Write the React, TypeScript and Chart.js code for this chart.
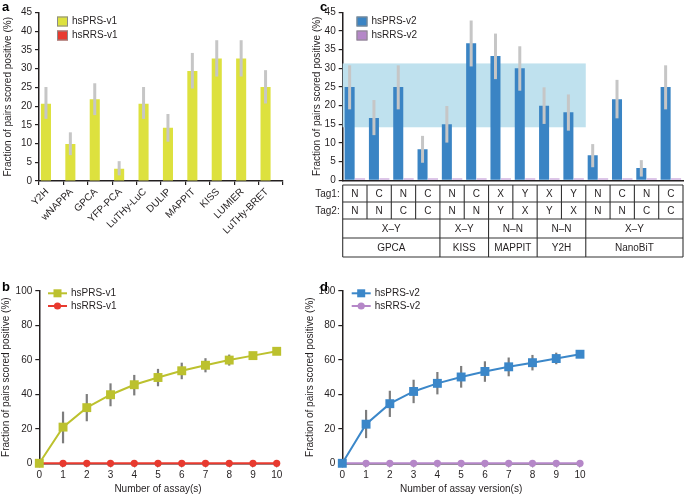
import React, { useEffect, useRef } from 'react';
import { Chart, registerables } from 'chart.js';

Chart.register(...registerables);

// ---------------- DATA ----------------
// Panel a
const ASSAYS_V1 = ['Y2H', 'wNAPPA', 'GPCA', 'YFP-PCA', 'LuTHy-LuC', 'DULIP', 'MAPPIT', 'KISS', 'LUMIER', 'LuTHy-BRET'];
const PRS_V1_BAR = [20.6, 9.9, 21.8, 3.3, 20.6, 14.2, 29.4, 32.7, 32.7, 25.1];
const PRS_V1_BAR_LO = [16.6, 6.9, 17.6, 1.5, 16.6, 10.5, 24.7, 27.9, 27.9, 20.7];
const PRS_V1_BAR_HI = [25.1, 13.0, 26.1, 5.3, 25.1, 17.9, 34.2, 37.6, 37.6, 29.6];
const RRS_V1_BAR = [0, 0, 0, 0, 0, 0, 0, 0, 0, 0];

// Panel c
const TAG1 = ['N', 'C', 'N', 'C', 'N', 'C', 'X', 'Y', 'X', 'Y', 'N', 'C', 'N', 'C'];
const TAG2 = ['N', 'N', 'C', 'C', 'N', 'N', 'Y', 'X', 'Y', 'X', 'N', 'N', 'C', 'C'];
const ORIENT_LABELS = ['X–Y', 'X–Y', 'N–N', 'N–N', 'X–Y'];
const ORIENT_SPANS = [4, 2, 2, 2, 4];
const ASSAYS_V2 = ['GPCA', 'KISS', 'MAPPIT', 'Y2H', 'NanoBiT'];
const ASSAY_V2_SPANS = [4, 2, 2, 2, 4];
const PRS_V2_BAR = [25, 16.7, 25, 8.3, 15, 36.7, 33.3, 30, 20, 18.2, 6.7, 21.7, 3.3, 25];
const PRS_V2_BAR_LO = [19, 12.1, 19, 4.7, 10.1, 30.5, 27.1, 24, 15.1, 13.3, 3.5, 16.6, 1.0, 19];
const PRS_V2_BAR_HI = [30.8, 21.5, 30.8, 11.9, 19.9, 42.8, 39.3, 35.9, 24.9, 23, 9.7, 26.9, 5.4, 30.8];
const RRS_V2_BAR = [0, 0, 0, 0, 0, 0, 0, 0, 0, 0, 0, 0, 0, 0];
const BAND_RANGE = [14.2, 31.3];
const BAND_LAST_INDEX = 9;

// Panels b & d
const ASSAY_COUNT = [0, 1, 2, 3, 4, 5, 6, 7, 8, 9, 10];
const PRS_V1_CUM = [0, 21.0, 32.3, 39.8, 45.6, 49.8, 53.7, 56.9, 59.9, 62.5, 65.0];
const PRS_V1_CUM_LO = [0, 11.6, 24.4, 33.1, 39.4, 44.7, 48.8, 52.8, 56.7, 60.5, 65.0];
const PRS_V1_CUM_HI = [0, 30.0, 40.2, 46.4, 51.3, 54.8, 58.4, 61.0, 63.1, 64.6, 65.0];
const RRS_V1_CUM = [0, 0, 0, 0, 0, 0, 0, 0, 0, 0, 0];
const PRS_V2_CUM = [0, 22.7, 34.6, 41.7, 46.4, 50.1, 53.3, 56.0, 58.4, 60.8, 63.3];
const PRS_V2_CUM_LO = [0, 14.6, 26.9, 34.9, 40.0, 43.9, 47.3, 50.5, 53.9, 57.5, 63.3];
const PRS_V2_CUM_HI = [0, 31.0, 42.1, 48.5, 53.0, 56.5, 59.2, 61.4, 62.9, 64.2, 63.3];
const RRS_V2_CUM = [0, 0, 0, 0, 0, 0, 0, 0, 0, 0, 0];

// ---------------- STYLE ----------------
const FF = '"Liberation Sans", Arial, Helvetica, sans-serif';
const INK = '#231f20';
const YELLOW = '#dde13e';
const OLIVE = '#bcc12e';
const RED = '#e83a2f';
const BLUE = '#3a84c4';
const BLUE_LINE = '#3b87c9';
const PURPLE = '#b587c8';
const BAND = '#bfe1ee';
const FONT = { family: FF, size: 10 };
const Y_TITLE = 'Fraction of pairs scored positive (%)';

// ---------------- PLUGINS ----------------
function errorBars(id: string, color: string, width: number, before: boolean) {
  const draw = (chart: any) => {
    const ctx = chart.ctx;
    const ys = chart.scales.y;
    chart.data.datasets.forEach((ds: any, di: number) => {
      if (!ds.errLo) return;
      const meta = chart.getDatasetMeta(di);
      ctx.save();
      ctx.strokeStyle = color;
      ctx.lineWidth = width;
      ctx.lineCap = 'butt';
      meta.data.forEach((el: any, i: number) => {
        const lo = ds.errLo[i];
        const hi = ds.errHi[i];
        if (hi - lo <= 0) return;
        ctx.beginPath();
        ctx.moveTo(el.x, ys.getPixelForValue(lo));
        ctx.lineTo(el.x, ys.getPixelForValue(hi));
        ctx.stroke();
      });
      ctx.restore();
    });
  };
  return before ? { id, beforeDatasetsDraw: draw } : { id, afterDatasetsDraw: draw };
}

type LegItem = { label: string; color: string; kind: 'box' | 'rect' | 'circle' };
function manualLegend(items: LegItem[], x: number, y: number, dy: number) {
  return {
    id: 'manualLegend',
    afterDraw(chart: any) {
      const ctx = chart.ctx;
      ctx.save();
      ctx.font = `10px ${FF}`;
      ctx.textBaseline = 'middle';
      ctx.textAlign = 'left';
      items.forEach((it, i) => {
        const cy = y + i * dy;
        let tx = x;
        if (it.kind === 'box') {
          ctx.fillStyle = it.color;
          ctx.fillRect(x, cy - 5, 11, 10);
          ctx.strokeStyle = '#8a8a8a';
          ctx.lineWidth = 1;
          ctx.strokeRect(x + 0.5, cy - 4.5, 10, 9);
          tx = x + 15;
        } else {
          ctx.strokeStyle = it.color;
          ctx.lineWidth = 2;
          ctx.beginPath();
          ctx.moveTo(x, cy);
          ctx.lineTo(x + 19, cy);
          ctx.stroke();
          ctx.fillStyle = it.color;
          if (it.kind === 'rect') {
            ctx.fillRect(x + 9.5 - 4, cy - 4, 8, 8);
          } else {
            ctx.beginPath();
            ctx.arc(x + 9.5, cy, 3.6, 0, Math.PI * 2);
            ctx.fill();
          }
          tx = x + 23;
        }
        ctx.fillStyle = INK;
        ctx.fillText(it.label, tx, cy);
      });
      ctx.restore();
    },
  };
}

const bandPlugin = {
  id: 'band',
  beforeDatasetsDraw(chart: any) {
    const { ctx, chartArea } = chart;
    const xs = chart.scales.x;
    const ys = chart.scales.y;
    const w = xs.getPixelForValue(1) - xs.getPixelForValue(0);
    const xEnd = xs.getPixelForValue(BAND_LAST_INDEX) + w / 2;
    const yTop = ys.getPixelForValue(BAND_RANGE[1]);
    const yBot = ys.getPixelForValue(BAND_RANGE[0]);
    ctx.save();
    ctx.fillStyle = BAND;
    ctx.fillRect(chartArea.left, yTop, xEnd - chartArea.left, yBot - yTop);
    ctx.restore();
  },
};

const tablePlugin = {
  id: 'tagTable',
  afterDraw(chart: any) {
    const { ctx, chartArea } = chart;
    const xs = chart.scales.x;
    const n = TAG1.length;
    const w = xs.getPixelForValue(1) - xs.getPixelForValue(0);
    const edge = (k: number) => xs.getPixelForValue(0) - w / 2 + k * w;
    const rows = [4.7, 21.7, 38.7, 57.7, 76.7].map((d) => chartArea.bottom + d);
    ctx.save();
    ctx.strokeStyle = '#333';
    ctx.lineWidth = 1.1;
    rows.forEach((ry) => {
      ctx.beginPath();
      ctx.moveTo(edge(0), ry);
      ctx.lineTo(edge(n), ry);
      ctx.stroke();
    });
    for (let k = 0; k <= n; k++) {
      ctx.beginPath();
      ctx.moveTo(edge(k), rows[0]);
      ctx.lineTo(edge(k), rows[2]);
      ctx.stroke();
    }
    const groupRow = (labels: string[], spans: number[], r: number) => {
      let k = 0;
      ctx.beginPath();
      ctx.moveTo(edge(0), rows[r]);
      ctx.lineTo(edge(0), rows[r + 1]);
      ctx.stroke();
      labels.forEach((lab, gi) => {
        const s = k;
        k += spans[gi];
        ctx.beginPath();
        ctx.moveTo(edge(k), rows[r]);
        ctx.lineTo(edge(k), rows[r + 1]);
        ctx.stroke();
        ctx.fillText(lab, (edge(s) + edge(k)) / 2, (rows[r] + rows[r + 1]) / 2 + 0.5);
      });
    };
    ctx.fillStyle = INK;
    ctx.font = `10px ${FF}`;
    ctx.textAlign = 'center';
    ctx.textBaseline = 'middle';
    for (let i = 0; i < n; i++) {
      const cx = xs.getPixelForValue(i);
      ctx.fillText(TAG1[i], cx, (rows[0] + rows[1]) / 2 + 0.5);
      ctx.fillText(TAG2[i], cx, (rows[1] + rows[2]) / 2 + 0.5);
    }
    groupRow(ORIENT_LABELS, ORIENT_SPANS, 2);
    groupRow(ASSAYS_V2, ASSAY_V2_SPANS, 3);
    ctx.textAlign = 'right';
    ctx.fillText('Tag1:', edge(0) - 3, (rows[0] + rows[1]) / 2 + 0.5);
    ctx.fillText('Tag2:', edge(0) - 3, (rows[1] + rows[2]) / 2 + 0.5);
    ctx.restore();
  },
};

// ---------------- SCALE HELPERS ----------------
function yAxis(max: number, step: number, width: number, titlePad: number) {
  return {
    min: 0,
    max,
    ticks: { stepSize: step, font: FONT, color: INK, padding: 3 },
    grid: { drawOnChartArea: false, drawTicks: true, tickLength: 4, color: INK, lineWidth: 1.2 },
    border: { display: true, color: INK, width: 1.5 },
    title: { display: true, text: Y_TITLE, font: FONT, color: INK, padding: { top: titlePad, bottom: 0 } },
    afterFit: (s: any) => {
      s.width = width;
    },
  };
}

function linearX(height: number, title: string) {
  return {
    type: 'linear',
    min: 0,
    max: 10,
    ticks: { stepSize: 1, font: FONT, color: INK, padding: 2 },
    grid: { drawOnChartArea: false, drawTicks: true, tickLength: 4, color: INK, lineWidth: 1.2 },
    border: { display: true, color: INK, width: 1.5 },
    title: { display: true, text: title, font: FONT, color: INK, padding: { top: 0, bottom: 0 } },
    afterFit: (s: any) => {
      s.height = height;
    },
  };
}

// ---------------- PANELS ----------------
function makeA(canvas: HTMLCanvasElement) {
  return new Chart(canvas, {
    type: 'bar',
    data: {
      labels: ASSAYS_V1,
      datasets: [
        {
          label: 'hsPRS-v1',
          data: PRS_V1_BAR,
          backgroundColor: YELLOW,
          categoryPercentage: 0.86,
          barPercentage: 0.96,
          errLo: PRS_V1_BAR_LO,
          errHi: PRS_V1_BAR_HI,
        } as any,
        {
          label: 'hsRRS-v1',
          data: RRS_V1_BAR,
          backgroundColor: RED,
          categoryPercentage: 0.86,
          barPercentage: 0.96,
        },
      ],
    },
    options: {
      responsive: false,
      animation: false,
      layout: { padding: { left: 0, top: 12.5, right: 47, bottom: 0 } },
      plugins: { legend: { display: false }, tooltip: { enabled: false } },
      scales: {
        x: {
          ticks: { autoSkip: false, maxRotation: 45, minRotation: 45, font: FONT, color: INK, padding: 1, labelOffset: -4 },
          grid: { drawOnChartArea: false, drawTicks: true, tickLength: 4, color: INK, lineWidth: 1.2 },
          border: { display: true, color: INK, width: 1.5 },
          afterFit: (s: any) => {
            s.height = 99;
          },
        },
        y: yAxis(45, 5, 39, 2.5),
      } as any,
    },
    plugins: [
      errorBars('errA', '#c6c6c6', 3, false),
      manualLegend(
        [
          { label: 'hsPRS-v1', color: YELLOW, kind: 'box' },
          { label: 'hsRRS-v1', color: RED, kind: 'box' },
        ],
        57,
        21.5,
        14
      ),
    ],
  } as any);
}

const C_LEFT = 306;
function makeC(canvas: HTMLCanvasElement) {
  return new Chart(canvas, {
    type: 'bar',
    data: {
      labels: TAG1.map((t, i) => `${t}/${TAG2[i]}`),
      datasets: [
        {
          label: 'hsPRS-v2',
          data: PRS_V2_BAR,
          backgroundColor: BLUE,
          categoryPercentage: 0.86,
          barPercentage: 0.96,
          errLo: PRS_V2_BAR_LO,
          errHi: PRS_V2_BAR_HI,
        } as any,
        {
          label: 'hsRRS-v2',
          data: RRS_V2_BAR,
          backgroundColor: '#d2b3e0',
          categoryPercentage: 0.86,
          barPercentage: 0.96,
          minBarLength: 2,
        },
      ],
    },
    options: {
      responsive: false,
      animation: false,
      layout: { padding: { left: 0, top: 12.3, right: 2, bottom: 0 } },
      plugins: { legend: { display: false }, tooltip: { enabled: false } },
      scales: {
        x: {
          ticks: { display: false },
          grid: { drawOnChartArea: false, drawTicks: false },
          border: { display: true, color: INK, width: 1.5 },
          afterFit: (s: any) => {
            s.height = 262 - 180.3;
          },
        },
        y: yAxis(45, 5, 342.7 - C_LEFT, 5),
      } as any,
    },
    plugins: [
      bandPlugin,
      errorBars('errC', '#c6c6c6', 3, false),
      tablePlugin,
      manualLegend(
        [
          { label: 'hsPRS-v2', color: BLUE, kind: 'box' },
          { label: 'hsRRS-v2', color: PURPLE, kind: 'box' },
        ],
        356.5 - C_LEFT,
        21.5,
        14
      ),
    ],
  } as any);
}

function makeLine(
  canvas: HTMLCanvasElement,
  yWidth: number,
  titlePad: number,
  padRight: number,
  xTitle: string,
  prs: number[],
  lo: number[],
  hi: number[],
  rrs: number[],
  prsColor: string,
  rrsColor: string,
  prsLabel: string,
  rrsLabel: string,
  legendX: number
) {
  return new Chart(canvas, {
    type: 'line',
    data: {
      datasets: [
        {
          label: prsLabel,
          data: ASSAY_COUNT.map((x, i) => ({ x, y: prs[i] })),
          borderColor: prsColor,
          backgroundColor: prsColor,
          borderWidth: 2,
          pointStyle: 'rect',
          pointRadius: 6.3,
          pointBorderWidth: 0,
          clip: false,
          errLo: lo,
          errHi: hi,
        } as any,
        {
          label: rrsLabel,
          data: ASSAY_COUNT.map((x, i) => ({ x, y: rrs[i] })),
          borderColor: rrsColor,
          backgroundColor: rrsColor,
          borderWidth: 2,
          pointStyle: 'circle',
          pointRadius: 3.6,
          pointBorderWidth: 0,
          clip: false,
        } as any,
      ],
    },
    options: {
      responsive: false,
      animation: false,
      layout: { padding: { left: 0, top: 11, right: padRight, bottom: 0 } },
      plugins: { legend: { display: false }, tooltip: { enabled: false } },
      scales: {
        x: linearX(215 - 183.3, xTitle),
        y: yAxis(100, 20, yWidth, titlePad),
      } as any,
    },
    plugins: [
      errorBars('errL', '#7d7d7d', 2.2, true),
      manualLegend(
        [
          { label: prsLabel, color: prsColor, kind: 'rect' },
          { label: rrsLabel, color: rrsColor, kind: 'circle' },
        ],
        legendX,
        13.3,
        12.7
      ),
    ],
  } as any);
}

// ---------------- COMPONENTS ----------------
function Panel(props: { left: number; top: number; width: number; height: number; make: (c: HTMLCanvasElement) => Chart }) {
  const ref = useRef<HTMLCanvasElement>(null);
  useEffect(() => {
    const chart = props.make(ref.current as HTMLCanvasElement);
    return () => chart.destroy();
  }, []);
  return (
    <canvas
      ref={ref}
      width={props.width}
      height={props.height}
      style={{ position: 'absolute', left: props.left, top: props.top, width: props.width, height: props.height, display: 'block' }}
    />
  );
}

function Letter(props: { x: number; y: number; t: string }) {
  return (
    <div style={{ position: 'absolute', left: props.x, top: props.y, fontFamily: FF, fontWeight: 'bold', fontSize: 13, lineHeight: '13px', color: '#000' }}>
      {props.t}
    </div>
  );
}

export default function App() {
  return (
    <div style={{ position: 'fixed', left: 0, top: 0, width: 685, height: 495, background: '#fff', overflow: 'hidden' }}>
      <Panel left={0} top={0} width={330} height={280} make={makeA} />
      <Panel left={C_LEFT} top={0} width={685 - C_LEFT} height={262} make={makeC} />
      <Panel
        left={0}
        top={280}
        width={320}
        height={215}
        make={(c) =>
          makeLine(c, 39.3, 0, 320 - 276.7, 'Number of assay(s)', PRS_V1_CUM, PRS_V1_CUM_LO, PRS_V1_CUM_HI, RRS_V1_CUM, OLIVE, RED, 'hsPRS-v1', 'hsRRS-v1', 48)
        }
      />
      <Panel
        left={300}
        top={280}
        width={385}
        height={215}
        make={(c) =>
          makeLine(c, 42.3, 4, 105, 'Number of assay version(s)', PRS_V2_CUM, PRS_V2_CUM_LO, PRS_V2_CUM_HI, RRS_V2_CUM, BLUE_LINE, PURPLE, 'hsPRS-v2', 'hsRRS-v2', 51.7)
        }
      />
      <Letter x={2} y={0} t="a" />
      <Letter x={2} y={280} t="b" />
      <Letter x={320} y={0} t="c" />
      <Letter x={320} y={280} t="d" />
    </div>
  );
}
